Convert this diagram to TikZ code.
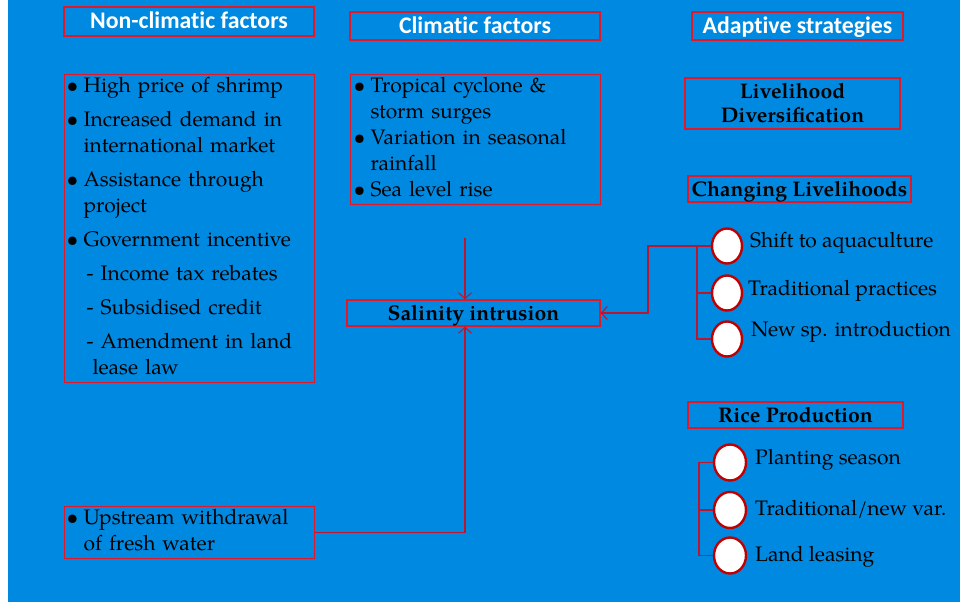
\documentclass[tikz,border=0pt]{standalone}
\usepackage{fontspec}
\setmainfont{texgyrepagella}[Extension=.otf, UprightFont=*-regular, BoldFont=*-bold, ItalicFont=*-italic, BoldItalicFont=*-bolditalic]
\newfontfamily\headfont{Carlito}[Ligatures=NoCommon]
\usepackage{array}
\usetikzlibrary{arrows.meta}
\usetikzlibrary{shapes.geometric}
\definecolor{slideblue}{RGB}{0,137,224}
\definecolor{boxred}{RGB}{226,24,40}
\definecolor{linered}{RGB}{186,22,48}
\definecolor{ringred}{RGB}{192,0,0}
\tikzset{>={Straight Barb[length=6pt,width=13pt]}}
\tikzset{
    redbox/.style={draw=boxred, line width=1.1pt, inner sep=0pt},
    headbox/.style={redbox, text=white, text height=19pt, text depth=4pt, font=\headfont\bfseries\fontsize{23.8}{28}\selectfont},
    boldbox/.style={redbox, text height=18pt, text depth=4pt, font=\bfseries\fontsize{21.2}{24}\selectfont, align=center},
    listbox/.style={redbox, inner ysep=0pt, align=left, anchor=north west, font=\fontsize{21}{26}\selectfont},
    conn/.style={draw=linered, line width=1.1pt},
    ring/.style={ellipse, draw=ringred, line width=2.4pt, fill=white, inner sep=0pt, minimum width=30pt, minimum height=35pt},
    itemtext/.style={anchor=west, inner sep=0pt, font=\fontsize{21}{26}\selectfont},
}

\begin{document}
\begin{tikzpicture}[x=1pt, y=-1pt] % salinity intrusion drivers
	\useasboundingbox (0,0) rectangle (960,602);
	\fill[slideblue] (8,0) rectangle (960,602);
	% column heads
	\node[headbox, minimum width=250pt, minimum height=29pt] (nonclim) at (189,21.5) {Non-climatic factors};
	\node[headbox, minimum width=250pt, minimum height=28pt] (clim) at (475,26) {Climatic factors};
	\node[headbox, minimum width=211pt, minimum height=28pt] (adapt) at (797.5,26) {Adaptive strategies};
	% factor lists
	\node[listbox, inner xsep=2pt, text width=246pt, minimum height=307pt] (nonclimlist) at (64,74) {%
		\begin{tabular}{@{}p{17pt}@{}l@{}}
		\textbullet & High price of shrimp\\[8pt]
		\textbullet & Increased demand in\\
		 & international market\\[8pt]
		\textbullet & Assistance through\\
		 & project\\[8pt]
		\textbullet & Government incentive\\[8pt]
		 & \hspace*{3pt}- Income tax rebates\\[8pt]
		 & \hspace*{3pt}- Subsidised credit\\[8pt]
		 & \hspace*{3pt}- Amendment in land\\
		 & \hspace*{9pt}lease law
		\end{tabular}};
	\node[listbox, inner xsep=3pt, text width=244pt, minimum height=129pt] (climlist) at (350,74) {%
		\begin{tabular}{@{}p{17pt}@{}l@{}}
		\textbullet & Tropical cyclone \&\\
		 & storm surges\\
		\textbullet & Variation in seasonal\\
		 & rainfall\\
		\textbullet & Sea level rise
		\end{tabular}};
	\node[listbox, inner xsep=2pt, text width=246pt, minimum height=52pt] (upstream) at (64,506) {%
		\begin{tabular}{@{}p{17pt}@{}l@{}}
		\textbullet & Upstream withdrawal\\
		 & of fresh water
		\end{tabular}};
	\node[boldbox, minimum width=253pt, minimum height=26pt] (sal) at (473.5,313) {Salinity intrusion};
	% strategies
	\node[boldbox, text height=40pt, text depth=3pt, minimum width=215pt, minimum height=51pt] (diver) at (792.5,103.5) {Livelihood\\Diversification};
	\node[boldbox, minimum width=223pt, minimum height=26pt] (changing) at (799.5,189) {Changing Livelihoods};
	\node[boldbox, minimum width=215pt, minimum height=26pt] (rice) at (795.5,415) {Rice Production};
	\node[ring] (shift) at (727,246) {};
	\node[ring] (tradprac) at (727,293) {};
	\node[ring] (newsp) at (727,339) {};
	\node[ring, minimum width=32pt, minimum height=36pt] (plant) at (730,462.5) {};
	\node[ring, minimum width=32pt, minimum height=36pt] (variety) at (730,510) {};
	\node[ring, minimum width=32pt, minimum height=36pt] (lease) at (730,555.5) {};
	\node[itemtext] (shifttxt) at (750,243) {Shift to aquaculture};
	\node[itemtext] (tradpractxt) at (748,291) {Traditional practices};
	\node[itemtext] (newsptxt) at (751,332) {New sp. introduction};
	\node[itemtext] (planttxt) at (755,460) {Planting season};
	\node[itemtext] (varietytxt) at (755,509) {Traditional/new var.};
	\node[itemtext] (leasetxt) at (755,557) {Land leasing};
	% connectors
	\coordinate (climend) at (465,238);
	\coordinate (bend) at (648,246);
	\coordinate (trunk) at (697,246);
	\coordinate (ricetrunk) at (699,462.5);
	\draw[conn, ->] (climend) -- (sal.north -| climend);
	\draw[conn, ->] (upstream.east) -| (sal.south -| climend);
	\draw[conn, ->] (shift.west) -- (bend) |- (sal.east);
	\draw[conn] (trunk) |- (tradprac.west);
	\draw[conn] (trunk) |- (newsp.west);
	\draw[conn] (plant.west) -- (ricetrunk) |- (lease.west);
	\draw[conn] (ricetrunk) |- (variety.west);
\end{tikzpicture}
\end{document}
